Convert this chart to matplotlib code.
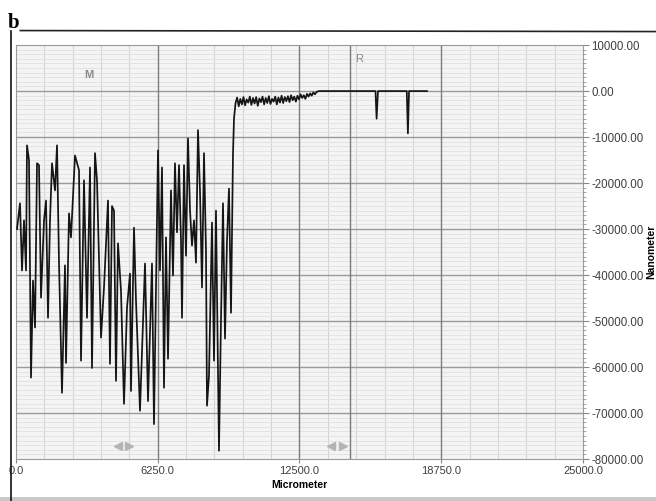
import matplotlib
matplotlib.use("Agg")
import matplotlib.pyplot as plt
from matplotlib.ticker import MultipleLocator, FormatStrFormatter
import numpy as np

plt.rcParams['font.family'] = ['Liberation Sans', 'DejaVu Sans']

# rough surface part (micrometer, nanometer)
rough_x = [44, 176, 265, 353, 441, 485, 573, 661, 750, 838, 926, 1014, 1102,
           1235, 1323, 1411, 1499, 1587, 1720, 1808, 1896, 2028, 2160, 2205,
           2337, 2425, 2601, 2778, 2866, 2998, 3130, 3263, 3351, 3483, 3571,
           3748, 3880, 4056, 4144, 4233, 4321, 4409, 4497, 4629, 4762, 4894,
           5026, 5070, 5203, 5291, 5467, 5688, 5820, 5996, 6084, 6261, 6349,
           6437, 6525, 6614, 6702, 6834, 6922, 7010, 7098, 7187, 7275, 7319,
           7407, 7495, 7583, 7672, 7760, 7848, 7936, 8024, 8112, 8201, 8289,
           8377, 8421, 8509, 8642, 8730, 8818, 8950, 9038, 9127, 9215, 9303,
           9391, 9480, 9568, 9612]
rough_y = [-30000, -24400, -39000, -28100, -39000, -11800, -15000, -62300,
           -41200, -51400, -15700, -16100, -44900, -28100, -23800, -49300,
           -28100, -15700, -21600, -11800, -37300, -65600, -37900, -59100,
           -26600, -31800, -14000, -17200, -58600, -19400, -49300, -16600,
           -60200, -13500, -19400, -53600, -42700, -23800, -59300, -25000,
           -26000, -63000, -33100, -43400, -68000, -47100, -39700, -65200,
           -29700, -45600, -69500, -37500, -67400, -37500, -72400, -12900,
           -39000, -16600, -64500, -31800, -58200, -21600, -40100, -15700,
           -30700, -16100, -32500, -49300, -16100, -35800, -10300, -25900,
           -33600, -28100, -37300, -8500, -21600, -42700, -13500, -34700,
           -68400, -61900, -28600, -58600, -26000, -78200, -49900, -24400,
           -53800, -32500, -21200, -48200, -13500, -6000]

# smooth part after the step, with the two pits
flat_x = [9680, 9750, 9820, 9890, 9960, 10030, 10100, 10170, 10240, 10310,
          10380, 10450, 10520, 10590, 10660, 10730, 10800, 10870, 10940, 11010,
          11080, 11150, 11220, 11290, 11360, 11430, 11500, 11570, 11640, 11710,
          11780, 11850, 11920, 11990, 12060, 12130, 12200, 12270, 12340, 12410,
          12480, 12550, 12620, 12690, 12760, 12830, 12900, 12970, 13040, 13110,
          13180, 13250, 13350,
          15850, 15900, 15960, 17230, 17280, 17330, 18120]
flat_y = [-2600, -1400, -3300, -1700, -2900, -1300, -3100, -1800, -2500, -1200,
          -3000, -1500, -2700, -1300, -3200, -1600, -2400, -1200, -2900, -1500,
          -2600, -1100, -2800, -1700, -2300, -1200, -2900, -1400, -2500, -1000,
          -2600, -1300, -2200, -1100, -2400, -900, -2000, -1200, -2300, -1000,
          -1800, -700, -1500, -900, -1700, -600, -1200, -500, -1000, -300,
          -700, -200, 0,
          0, -6000, 0, 0, -9200, 0, 0]

xs = np.array(rough_x + flat_x)
ys = np.array(rough_y + flat_y)

fig = plt.figure(figsize=(6.56, 5.01), dpi=100)
ax = fig.add_axes([0.0244, 0.0838, 0.8643, 0.8262])
ax.set_facecolor('#f4f4f4')

ax.set_xlim(0, 25000)
ax.set_ylim(-80000, 10000)
ax.xaxis.set_major_locator(MultipleLocator(6250))
ax.xaxis.set_minor_locator(MultipleLocator(1250))
ax.yaxis.set_major_locator(MultipleLocator(10000))
ax.yaxis.set_minor_locator(MultipleLocator(1000))
ax.grid(which='minor', axis='y', color='#e0e0e0', lw=0.6)
ax.grid(which='minor', axis='x', color='#d4d4d4', lw=0.8)
ax.set_axisbelow(True)

# major grid drawn above the minor one
for v in range(-70000, 10000, 10000):
    ax.axhline(v, color='#9a9a9a', lw=1.0, zorder=1)
for v in (6250, 12500, 18750):
    ax.axvline(v, color='#7c7c7c', lw=1.0, zorder=1)
# cursor line R
ax.axvline(14730, color='#7a7a7a', lw=1.0, zorder=1)

ax.plot(xs, ys, color='#151515', lw=1.25, zorder=3)

ax.text(3000, 2800, 'M', color='#8a8a8a', fontsize=8, fontweight='bold')
ax.text(14950, 6300, 'R', color='#8a8a8a', fontsize=8)
for px, mk in ((4500, '<'), (5000, '>'), (13900, '<'), (14400, '>')):
    ax.plot([px], [-77200], marker=mk, color='#b4b4b4', ms=6, ls='none')

ax.yaxis.tick_right()
ax.yaxis.set_label_position('right')
ax.yaxis.set_major_formatter(FormatStrFormatter('%.2f'))
ax.xaxis.set_major_formatter(FormatStrFormatter('%.1f'))
ax.tick_params(axis='y', which='major', length=4, color='#888888',
               labelsize=8.3, labelcolor='#404040', pad=2)
ax.tick_params(axis='y', which='minor', length=2, color='#999999')
ax.tick_params(axis='x', which='major', length=3, color='#888888',
               labelsize=8, labelcolor='#404040', pad=2)
ax.tick_params(axis='x', which='minor', length=0)
for s in ax.spines.values():
    s.set_color('#9a9a9a')
    s.set_linewidth(0.8)

ax.set_xlabel('Micrometer', fontsize=7.5, fontweight='bold', labelpad=3)
ax.set_ylabel('Nanometer', fontsize=7.5, fontweight='bold', labelpad=2)

# frame of the figure panel
fig.text(0.012, 0.945, 'b', fontsize=15, fontweight='bold', family='Liberation Serif')
fig.add_artist(plt.Line2D([0.031, 1.0], [0.939, 0.937], color='#222222', lw=1.2))
fig.add_artist(plt.Line2D([0.017, 0.017], [0.939, 0.0], color='#111111', lw=1.2))
fig.add_artist(plt.Rectangle((0, 0), 1, 0.008, color='#c8c8c8', lw=0))

fig.savefig('out.png', dpi=100)
